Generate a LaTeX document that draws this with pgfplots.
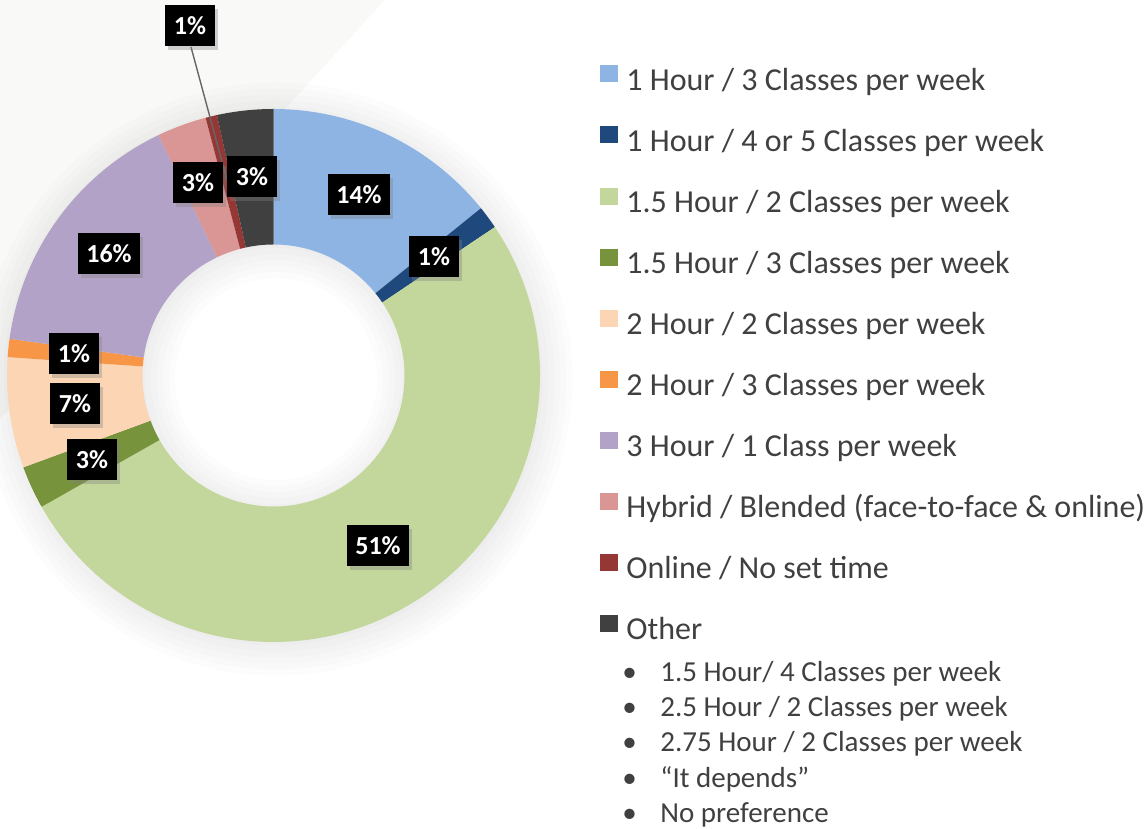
\documentclass[border=0pt]{standalone}
\usepackage{pgfplots}
\usepackage{pgfplotstable}
\pgfplotsset{compat=1.18}
\usetikzlibrary{shadows}
\usepackage{fontspec}
\setmainfont{Carlito}
\definecolor{c0}{HTML}{8EB4E3}
\definecolor{c1}{HTML}{1F497D}
\definecolor{c2}{HTML}{C3D69B}
\definecolor{c3}{HTML}{77933C}
\definecolor{c4}{HTML}{FCD5B5}
\definecolor{c5}{HTML}{F79646}
\definecolor{c6}{HTML}{B3A2C7}
\definecolor{c7}{HTML}{D99694}
\definecolor{c8}{HTML}{953735}
\definecolor{c9}{HTML}{404040}
\definecolor{textgray}{HTML}{404040}
\definecolor{bggray}{HTML}{F9F9F8}

% share (percent) and label centre (axis units)
\pgfplotstableread{
share lx ly
14.2 359 634
1.4 434 572
51.2 378 283
2.6 92 369
6.7 75 425
1.1 74 475
15.7 109 575
3.0 198 646
0.7 190 803
3.4 252 652
}\donutdata

\gdef\cum{0}
\pgfplotsforeachungrouped \i in {0,...,9}{%
  \pgfplotstablegetelem{\i}{share}\of{\donutdata}%
  \expandafter\xdef\csname v\i\endcsname{\pgfplotsretval}%
  \pgfmathsetmacro{\tmpa}{90-3.6*\cum}%
  \pgfmathsetmacro{\tmpc}{\cum+\pgfplotsretval}%
  \pgfmathsetmacro{\tmpb}{90-3.6*\tmpc}%
  \expandafter\xdef\csname sa\i\endcsname{\tmpa}%
  \expandafter\xdef\csname ea\i\endcsname{\tmpb}%
  \xdef\cum{\tmpc}%
  \pgfplotstablegetelem{\i}{lx}\of{\donutdata}%
  \expandafter\xdef\csname lx\i\endcsname{\pgfplotsretval}%
  \pgfplotstablegetelem{\i}{ly}\of{\donutdata}%
  \expandafter\xdef\csname ly\i\endcsname{\pgfplotsretval}%
}
\newcommand\SA[1]{\csname sa#1\endcsname}
\newcommand\EA[1]{\csname ea#1\endcsname}
\newcommand\VV[1]{\csname v#1\endcsname}
\newcommand\LX[1]{\csname lx#1\endcsname}
\newcommand\LY[1]{\csname ly#1\endcsname}

\begin{document}
\begin{tikzpicture}
\begin{axis}[
  x=0.5pt, y=0.5pt, xmin=0, xmax=1148, ymin=0, ymax=829,
  hide axis, clip=false,
  legend style={at={(axis cs:600,764)}, anchor=north west, draw=none, fill=none,
    font=\fontsize{16}{19}\selectfont, row sep=14.53pt, column sep=4pt, inner sep=0pt,
    nodes={inner sep=0pt, text height=11.5pt, text depth=3.5pt, text=textgray}},
  legend cell align=left,
  legend image code/.code={\fill[#1, draw=none] (0pt,0pt) rectangle (9pt,8.5pt);},
]
% faint slide background
\fill[bggray] (axis cs:0,829) -- (axis cs:385,829) -- (axis cs:0,410) -- cycle;
% soft shadow of the ring
\pgfplotsinvokeforeach{0,3,6,9,12,15}{
  \fill[black,opacity=0.011,even odd rule] (axis cs:276,450) circle[radius=133.25pt+#1pt] circle[radius=65.5pt-#1pt];
}
% slices
\pgfplotsinvokeforeach{0,...,9}{
  \fill[c#1] (axis cs:{273.5+266.5*cos(\SA{#1})},{453.5+266.5*sin(\SA{#1})})
    arc[start angle=\SA{#1}, end angle=\EA{#1}, radius=133.25pt]
    -- (axis cs:{273.5+131*cos(\EA{#1})},{453.5+131*sin(\EA{#1})})
    arc[start angle=\EA{#1}, end angle=\SA{#1}, radius=65.5pt] -- cycle;
}
% leader line for the small slice
\draw[gray!80!black, line width=0.7pt] (axis cs:191,782) -- (axis cs:227.5,647);
% data labels
\pgfplotsinvokeforeach{0,...,9}{
  \node[fill=black, text=white, font=\bfseries\fontsize{13}{15}\selectfont,
    inner xsep=4.3pt, inner ysep=0pt, minimum height=20.5pt,
    drop shadow={shadow xshift=1.5pt, shadow yshift=-2pt, opacity=0.35}]
    at (axis cs:\LX{#1},\LY{#1}) {\pgfmathprintnumber[fixed,precision=0,assume math mode=true]{\VV{#1}}\%};
}
% legend
\addlegendimage{fill=c0}\addlegendentry{1 Hour / 3 Classes per week}
\addlegendimage{fill=c1}\addlegendentry{1 Hour / 4 or 5 Classes per week}
\addlegendimage{fill=c2}\addlegendentry{1.5 Hour / 2 Classes per week}
\addlegendimage{fill=c3}\addlegendentry{1.5 Hour / 3 Classes per week}
\addlegendimage{fill=c4}\addlegendentry{2 Hour / 2 Classes per week}
\addlegendimage{fill=c5}\addlegendentry{2 Hour / 3 Classes per week}
\addlegendimage{fill=c6}\addlegendentry{3 Hour / 1 Class per week}
\addlegendimage{fill=c7}\addlegendentry{Hybrid / Blended (face-to-face \& online)}
\addlegendimage{fill=c8}\addlegendentry{Online / No set time}
\addlegendimage{fill=c9}\addlegendentry{Other}
% sub-list of "Other"
\pgfplotsinvokeforeach{147,112,77,41,6}{
  \node[anchor=base west, inner sep=0pt, font=\fontsize{14.5}{17.5}\selectfont, text=textgray] at (axis cs:622,#1) {•};
}
\node[anchor=base west, inner sep=0pt, font=\fontsize{14.5}{17.5}\selectfont, text=textgray] at (axis cs:660,147) {1.5 Hour/ 4 Classes per week};
\node[anchor=base west, inner sep=0pt, font=\fontsize{14.5}{17.5}\selectfont, text=textgray] at (axis cs:660,112) {2.5 Hour / 2 Classes per week};
\node[anchor=base west, inner sep=0pt, font=\fontsize{14.5}{17.5}\selectfont, text=textgray] at (axis cs:660,77) {2.75 Hour / 2 Classes per week};
\node[anchor=base west, inner sep=0pt, font=\fontsize{14.5}{17.5}\selectfont, text=textgray] at (axis cs:660,41) {“It depends”};
\node[anchor=base west, inner sep=0pt, font=\fontsize{14.5}{17.5}\selectfont, text=textgray] at (axis cs:660,6) {No preference};
\end{axis}
\pgfresetboundingbox
\useasboundingbox (current axis.south west) rectangle (current axis.north east);
\end{tikzpicture}
\end{document}
